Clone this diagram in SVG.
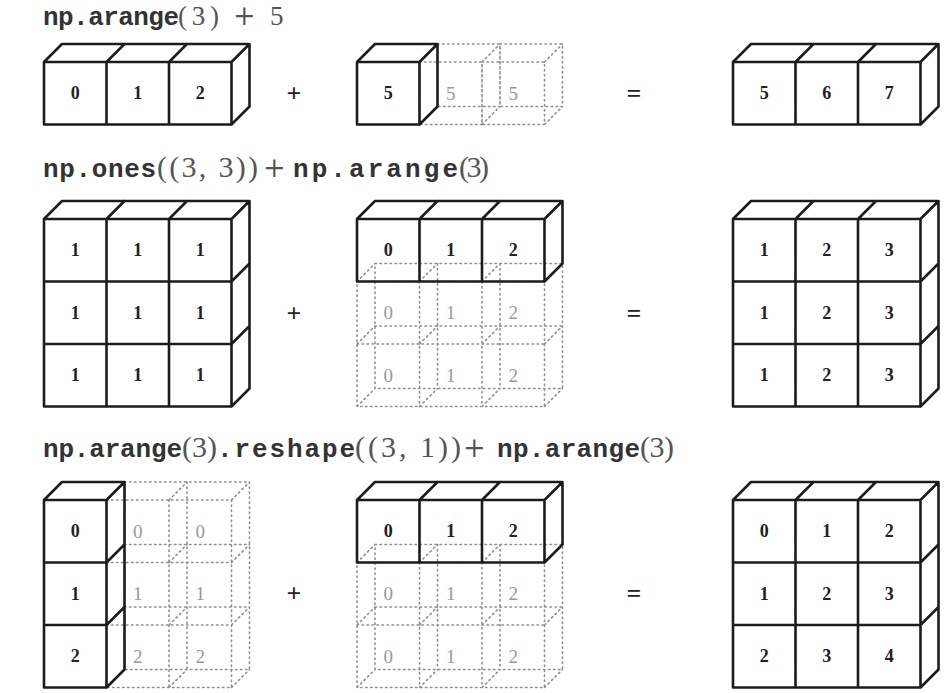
<svg xmlns="http://www.w3.org/2000/svg" width="950" height="693" viewBox="0 0 950 693">
<style>
.solid{fill:none;stroke:#1c1c1c;stroke-width:2.6;stroke-linejoin:round;stroke-linecap:round}
.ghost{fill:none;stroke:#8f8f8f;stroke-width:1.6;stroke-dasharray:1.5 3.5;stroke-linecap:round}
.num{font-family:"Liberation Serif",serif;font-weight:bold;font-size:18px;fill:#222;text-anchor:middle;dominant-baseline:central}
.gnum{font-family:"Liberation Serif",serif;font-size:19px;fill:#999;text-anchor:middle;dominant-baseline:central}
.op{font-family:"Liberation Serif",serif;font-weight:bold;font-size:26px;fill:#222;text-anchor:middle;dominant-baseline:central}
.tt{font-family:"Liberation Mono",monospace;font-size:26px;font-weight:bold;fill:#333}
.mr{font-family:"Liberation Serif",serif;font-size:30px;fill:#555}
.mr1{font-family:"Liberation Serif",serif;font-size:27px;fill:#555}
.pl{font-family:"DejaVu Serif",serif;font-size:27px;fill:#555}
</style>
<rect width="950" height="693" fill="#fff"/>

<g id="title1">
<text class="tt" x="43" y="25" textLength="136" lengthAdjust="spacing">np.arange</text>
<text class="mr1" x="178" y="25" textLength="41" lengthAdjust="spacing">(3)</text>
<text class="pl" x="233" y="25">+</text>
<text class="mr1" x="270" y="25">5</text>
</g>
<g id="title2">
<text class="tt" x="43" y="177" textLength="113" lengthAdjust="spacing">np.ones</text>
<text class="mr" x="157" y="177" textLength="101" lengthAdjust="spacing">((3, 3))</text>
<text class="pl" x="263" y="177">+</text>
<text class="tt" x="293" y="177" textLength="165" lengthAdjust="spacing">np.arange</text>
<text class="mr" x="459" y="177" textLength="30" lengthAdjust="spacing">(3)</text>
</g>
<g id="title3">
<text class="tt" x="43" y="457" textLength="139" lengthAdjust="spacing">np.arange</text>
<text class="mr" x="182" y="457" textLength="35" lengthAdjust="spacing">(3)</text>
<text class="tt" x="217" y="457" textLength="138" lengthAdjust="spacing">.reshape</text>
<text class="mr" x="355" y="457" textLength="106" lengthAdjust="spacing">((3, 1))</text>
<text class="pl" x="463" y="457">+</text>
<text class="tt" x="497" y="457" textLength="143" lengthAdjust="spacing">np.arange</text>
<text class="mr" x="640" y="457" textLength="34" lengthAdjust="spacing">(3)</text>
</g>

<g id="a1">
<path class="solid" d="M44,62h187.5v62.5h-187.5z M106.5,62v62.5 M169,62v62.5 M44,62l18,-18h187.5l-18,18 M106.5,62l18,-18 M169,62l18,-18 M231.5,124.5l18,-18v-62.5"/>
<text class="num" x="75.25" y="93.25">0</text><text class="num" x="137.75" y="93.25">1</text><text class="num" x="200.25" y="93.25">2</text>
</g>
<g id="a2">
<path class="ghost" d="M419.5,62h62.5v62.5h-62.5z M437.5,44h62.5v62.5h-62.5z M419.5,62l18,-18 M482,62l18,-18 M482,124.5l18,-18 M419.5,124.5l18,-18 M482,62h62.5v62.5h-62.5z M500,44h62.5v62.5h-62.5z M544.5,62l18,-18 M544.5,124.5l18,-18"/>
<text class="gnum" x="450.75" y="93.25">5</text><text class="gnum" x="513.25" y="93.25">5</text>
<path class="solid" d="M357,62h62.5v62.5h-62.5z M357,62l18,-18h62.5l-18,18 M419.5,124.5l18,-18v-62.5"/>
<text class="num" x="388.25" y="93.25">5</text>
</g>
<g id="a3">
<path class="solid" d="M733,62h187.5v62.5h-187.5z M795.5,62v62.5 M858,62v62.5 M733,62l18,-18h187.5l-18,18 M795.5,62l18,-18 M858,62l18,-18 M920.5,124.5l18,-18v-62.5"/>
<text class="num" x="764.25" y="93.25">5</text><text class="num" x="826.75" y="93.25">6</text><text class="num" x="889.25" y="93.25">7</text>
</g>

<g id="b1">
<path class="solid" d="M44,219h187.5v187.5h-187.5z M106.5,219v187.5 M169,219v187.5 M44,281.5h187.5 M44,344h187.5 M44,219l18,-18h187.5l-18,18 M106.5,219l18,-18 M169,219l18,-18 M231.5,406.5l18,-18v-187.5 M231.5,281.5l18,-18 M231.5,344l18,-18"/>
<text class="num" x="75.25" y="250.25">1</text><text class="num" x="137.75" y="250.25">1</text><text class="num" x="200.25" y="250.25">1</text>
<text class="num" x="75.25" y="312.75">1</text><text class="num" x="137.75" y="312.75">1</text><text class="num" x="200.25" y="312.75">1</text>
<text class="num" x="75.25" y="375.25">1</text><text class="num" x="137.75" y="375.25">1</text><text class="num" x="200.25" y="375.25">1</text>
</g>
<g id="b2">
<path class="ghost" d="M357,281.5h187.5v125h-187.5z M419.5,281.5v125 M482,281.5v125 M357,344h187.5 M375,263.5h187.5v125h-187.5z M437.5,263.5v125 M500,263.5v125 M375,326h187.5 M357,281.5l18,-18 M419.5,281.5l18,-18 M482,281.5l18,-18 M544.5,281.5l18,-18 M357,344l18,-18 M419.5,344l18,-18 M482,344l18,-18 M544.5,344l18,-18 M357,406.5l18,-18 M419.5,406.5l18,-18 M482,406.5l18,-18 M544.5,406.5l18,-18"/>
<text class="gnum" x="388.25" y="312.75">0</text><text class="gnum" x="450.75" y="312.75">1</text><text class="gnum" x="513.25" y="312.75">2</text>
<text class="gnum" x="388.25" y="375.25">0</text><text class="gnum" x="450.75" y="375.25">1</text><text class="gnum" x="513.25" y="375.25">2</text>
<path class="solid" d="M357,219h187.5v62.5h-187.5z M419.5,219v62.5 M482,219v62.5 M357,219l18,-18h187.5l-18,18 M419.5,219l18,-18 M482,219l18,-18 M544.5,281.5l18,-18v-62.5"/>
<text class="num" x="388.25" y="250.25">0</text><text class="num" x="450.75" y="250.25">1</text><text class="num" x="513.25" y="250.25">2</text>
</g>
<g id="b3">
<path class="solid" d="M733,219h187.5v187.5h-187.5z M795.5,219v187.5 M858,219v187.5 M733,281.5h187.5 M733,344h187.5 M733,219l18,-18h187.5l-18,18 M795.5,219l18,-18 M858,219l18,-18 M920.5,406.5l18,-18v-187.5 M920.5,281.5l18,-18 M920.5,344l18,-18"/>
<text class="num" x="764.25" y="250.25">1</text><text class="num" x="826.75" y="250.25">2</text><text class="num" x="889.25" y="250.25">3</text>
<text class="num" x="764.25" y="312.75">1</text><text class="num" x="826.75" y="312.75">2</text><text class="num" x="889.25" y="312.75">3</text>
<text class="num" x="764.25" y="375.25">1</text><text class="num" x="826.75" y="375.25">2</text><text class="num" x="889.25" y="375.25">3</text>
</g>

<g id="c1">
<path class="ghost" d="M106.5,500h125v187.5h-125z M169,500v187.5 M106.5,562.5h125 M106.5,625h125 M124.5,482h125v187.5h-125z M187,482v187.5 M124.5,544.5h125 M124.5,607h125 M106.5,500l18,-18 M169,500l18,-18 M231.5,500l18,-18 M106.5,562.5l18,-18 M169,562.5l18,-18 M231.5,562.5l18,-18 M106.5,625l18,-18 M169,625l18,-18 M231.5,625l18,-18 M106.5,687.5l18,-18 M169,687.5l18,-18 M231.5,687.5l18,-18"/>
<text class="gnum" x="137.75" y="531.25">0</text><text class="gnum" x="200.25" y="531.25">0</text>
<text class="gnum" x="137.75" y="593.75">1</text><text class="gnum" x="200.25" y="593.75">1</text>
<text class="gnum" x="137.75" y="656.25">2</text><text class="gnum" x="200.25" y="656.25">2</text>
<path class="solid" d="M44,500h62.5v187.5h-62.5z M44,562.5h62.5 M44,625h62.5 M44,500l18,-18h62.5l-18,18 M106.5,687.5l18,-18v-187.5 M106.5,562.5l18,-18 M106.5,625l18,-18"/>
<text class="num" x="75.25" y="531.25">0</text><text class="num" x="75.25" y="593.75">1</text><text class="num" x="75.25" y="656.25">2</text>
</g>
<g id="c2">
<path class="ghost" d="M357,562.5h187.5v125h-187.5z M419.5,562.5v125 M482,562.5v125 M357,625h187.5 M375,544.5h187.5v125h-187.5z M437.5,544.5v125 M500,544.5v125 M375,607h187.5 M357,562.5l18,-18 M419.5,562.5l18,-18 M482,562.5l18,-18 M544.5,562.5l18,-18 M357,625l18,-18 M419.5,625l18,-18 M482,625l18,-18 M544.5,625l18,-18 M357,687.5l18,-18 M419.5,687.5l18,-18 M482,687.5l18,-18 M544.5,687.5l18,-18"/>
<text class="gnum" x="388.25" y="593.75">0</text><text class="gnum" x="450.75" y="593.75">1</text><text class="gnum" x="513.25" y="593.75">2</text>
<text class="gnum" x="388.25" y="656.25">0</text><text class="gnum" x="450.75" y="656.25">1</text><text class="gnum" x="513.25" y="656.25">2</text>
<path class="solid" d="M357,500h187.5v62.5h-187.5z M419.5,500v62.5 M482,500v62.5 M357,500l18,-18h187.5l-18,18 M419.5,500l18,-18 M482,500l18,-18 M544.5,562.5l18,-18v-62.5"/>
<text class="num" x="388.25" y="531.25">0</text><text class="num" x="450.75" y="531.25">1</text><text class="num" x="513.25" y="531.25">2</text>
</g>
<g id="c3">
<path class="solid" d="M733,500h187.5v187.5h-187.5z M795.5,500v187.5 M858,500v187.5 M733,562.5h187.5 M733,625h187.5 M733,500l18,-18h187.5l-18,18 M795.5,500l18,-18 M858,500l18,-18 M920.5,687.5l18,-18v-187.5 M920.5,562.5l18,-18 M920.5,625l18,-18"/>
<text class="num" x="764.25" y="531.25">0</text><text class="num" x="826.75" y="531.25">1</text><text class="num" x="889.25" y="531.25">2</text>
<text class="num" x="764.25" y="593.75">1</text><text class="num" x="826.75" y="593.75">2</text><text class="num" x="889.25" y="593.75">3</text>
<text class="num" x="764.25" y="656.25">2</text><text class="num" x="826.75" y="656.25">3</text><text class="num" x="889.25" y="656.25">4</text>
</g>

<g id="operators">
<text class="op" x="294" y="93">+</text>
<text class="op" x="634" y="93">=</text>
<text class="op" x="294" y="313">+</text>
<text class="op" x="634" y="313">=</text>
<text class="op" x="294" y="593">+</text>
<text class="op" x="634" y="593">=</text>
</g>
</svg>
